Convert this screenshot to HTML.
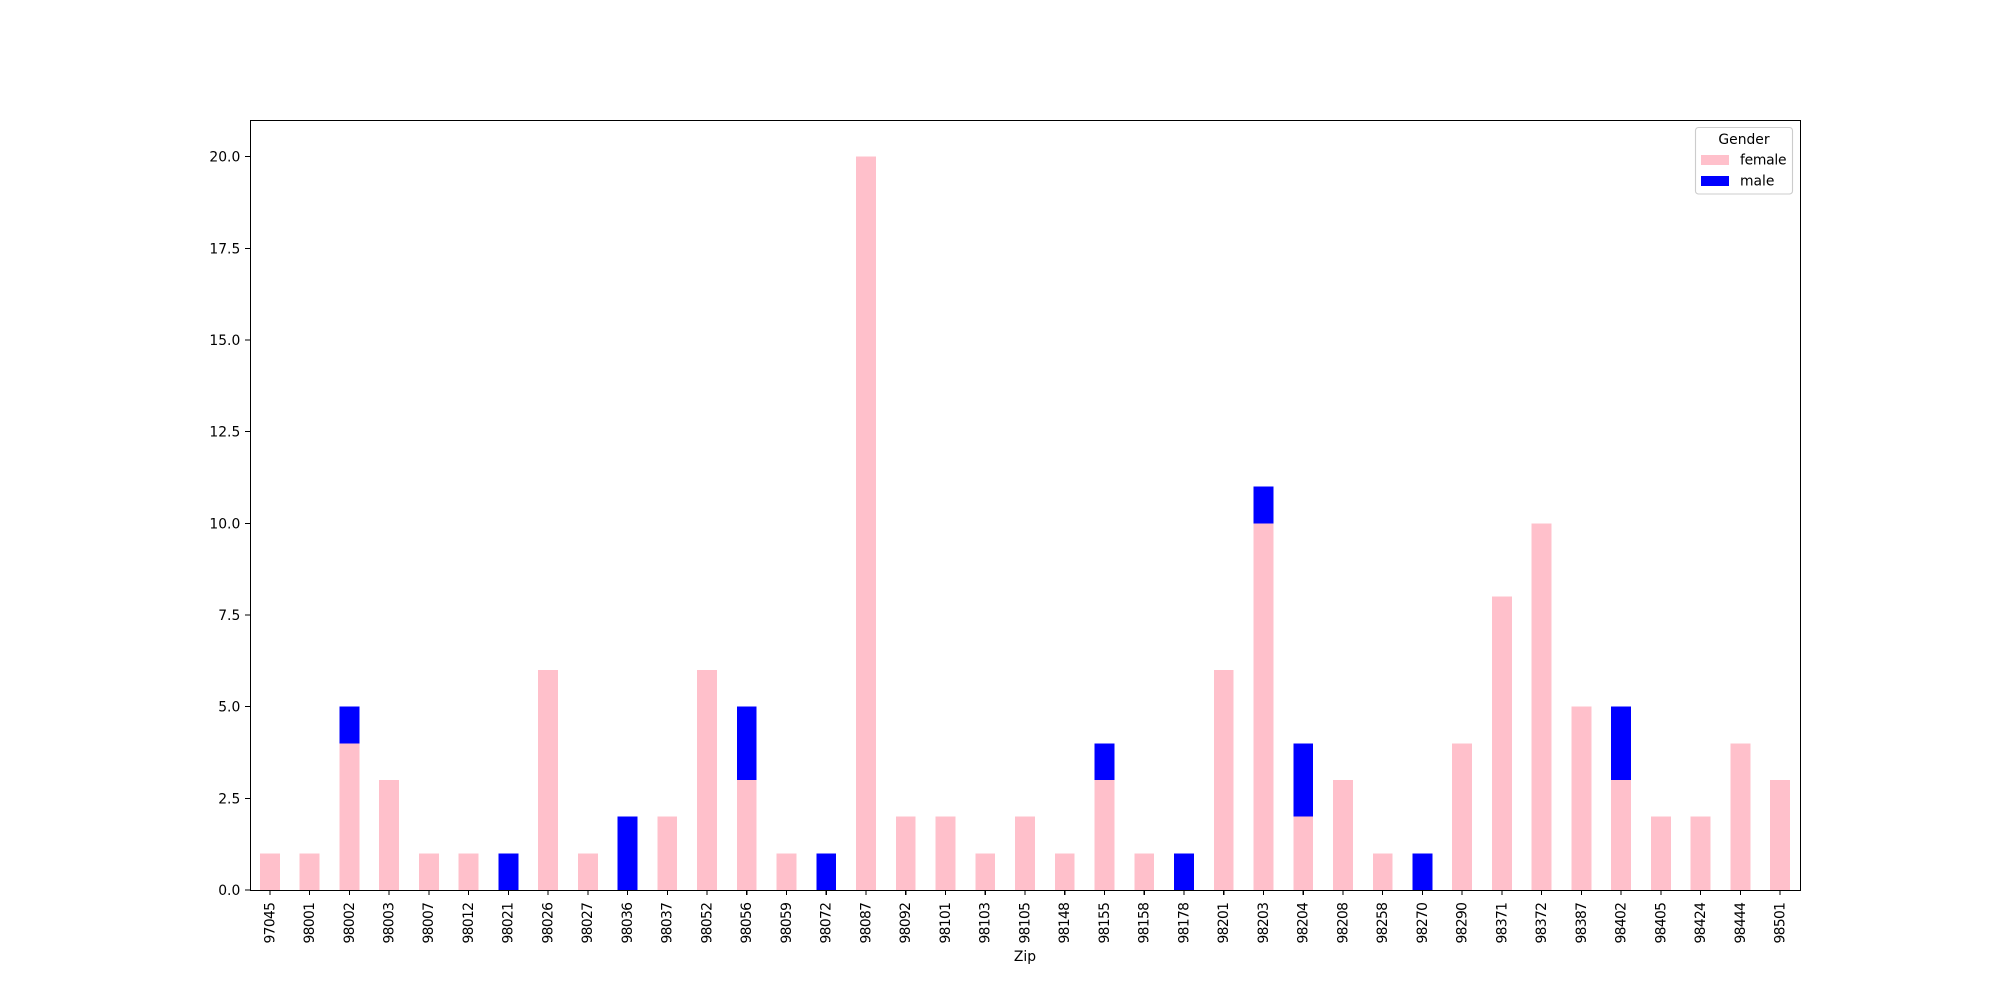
<!DOCTYPE html>
<html>
<head>
<meta charset="utf-8">
<title>Gender by Zip</title>
<style>
html,body{margin:0;padding:0;background:#fff;width:2000px;height:1000px;overflow:hidden}
svg{display:block}
text{font-family:"DejaVu Sans",sans-serif;font-size:13.89px;fill:#000}
rect.bar,line{shape-rendering:crispEdges}
</style>
</head>
<body>
<svg id="chart" xmlns="http://www.w3.org/2000/svg" width="2000" height="1000" viewBox="0 0 2000 1000">
  <rect x="0" y="0" width="2000" height="1000" fill="#fff"/>
  <g id="marks"></g>
  <g id="xaxis"></g>
  <g id="yaxis"></g>
  <rect x="250.5" y="120.5" width="1550" height="770" fill="none" stroke="#000" stroke-width="1.11" shape-rendering="crispEdges"/>
  <text x="1025" y="961" text-anchor="middle">Zip</text>
  <g>
    <rect x="1695.5" y="127.5" width="97" height="66.5" rx="3" ry="3" fill="#fff" fill-opacity="0.8" stroke="#ccc" stroke-width="1.11"/>
    <text x="1744" y="144" text-anchor="middle">Gender</text>
    <rect x="1701" y="155" width="28" height="10" fill="#ffc0cb"/>
    <text x="1740" y="164.5" textLength="46.5" lengthAdjust="spacing">female</text>
    <rect x="1701" y="176" width="28" height="10" fill="#0000ff"/>
    <text x="1740" y="185.5">male</text>
  </g>
</svg>
<script>
const categories = ["97045","98001","98002","98003","98007","98012","98021","98026","98027","98036","98037","98052","98056","98059","98072","98087","98092","98101","98103","98105","98148","98155","98158","98178","98201","98203","98204","98208","98258","98270","98290","98371","98372","98387","98402","98405","98424","98444","98501"];
const femaleValues = [1,1,4,3,1,1,0,6,1,0,2,6,3,1,0,20,2,2,1,2,1,3,1,0,6,10,2,3,1,0,4,8,10,5,3,2,2,4,3];
const maleValues = [0,0,1,0,0,0,1,0,0,2,0,0,2,0,1,0,0,0,0,0,0,1,0,1,0,1,2,0,0,1,0,0,0,0,2,0,0,0,0];
const yTickValues = [0,2.5,5,7.5,10,12.5,15,17.5,20];

const NS = 'http://www.w3.org/2000/svg';
const plotLeft = 250, plotRight = 1800, plotTop = 120, plotBottom = 890, yMax = 21;
const barFraction = 0.5;
const band = (plotRight - plotLeft) / categories.length;
function xCenter(i) { return plotLeft + band * (i + 0.5); }
function yPos(v) { return plotBottom - v * (plotBottom - plotTop) / yMax; }
function make(tag, attrs, parent) {
  const el = document.createElementNS(NS, tag);
  for (const k in attrs) el.setAttribute(k, attrs[k]);
  parent.appendChild(el);
  return el;
}
const marks = document.getElementById('marks');
const xaxis = document.getElementById('xaxis');
const yaxis = document.getElementById('yaxis');

categories.forEach(function (cat, i) {
  const f = femaleValues[i], m = maleValues[i];
  const w = band * barFraction;
  const x = xCenter(i) - w / 2;
  if (f > 0) {
    const r = make('rect', {class: 'bar', x: x, y: yPos(f), width: w, height: yPos(0) - yPos(f), fill: '#ffc0cb'}, marks);
    
    
  }
  if (m > 0) {
    const r = make('rect', {class: 'bar', x: x, y: yPos(f + m), width: w, height: yPos(f) - yPos(f + m), fill: '#0000ff'}, marks);
    
    
  }
  const cx = xCenter(i);
  const tick = make('line', {x1: cx, x2: cx, y1: plotBottom, y2: plotBottom + 5, stroke: '#000', 'stroke-width': 1.11}, xaxis);
  
  
  const label = make('text', {transform: 'translate(' + (cx + 4.4) + ',' + (plotBottom + 12) + ') rotate(-90)', 'text-anchor': 'end', textLength: 41.5, lengthAdjust: 'spacing'}, xaxis);
  label.textContent = cat;
  
  
});

yTickValues.forEach(function (v) {
  const y = yPos(v);
  const tick = make('line', {x1: plotLeft - 4.86, x2: plotLeft, y1: y, y2: y, stroke: '#000', 'stroke-width': 1.11}, yaxis);
  
  
  const label = make('text', {x: plotLeft - 9.7, y: y + 5, 'text-anchor': 'end'}, yaxis);
  label.textContent = v.toFixed(1);
  
  
});
</script>
</body>
</html>
